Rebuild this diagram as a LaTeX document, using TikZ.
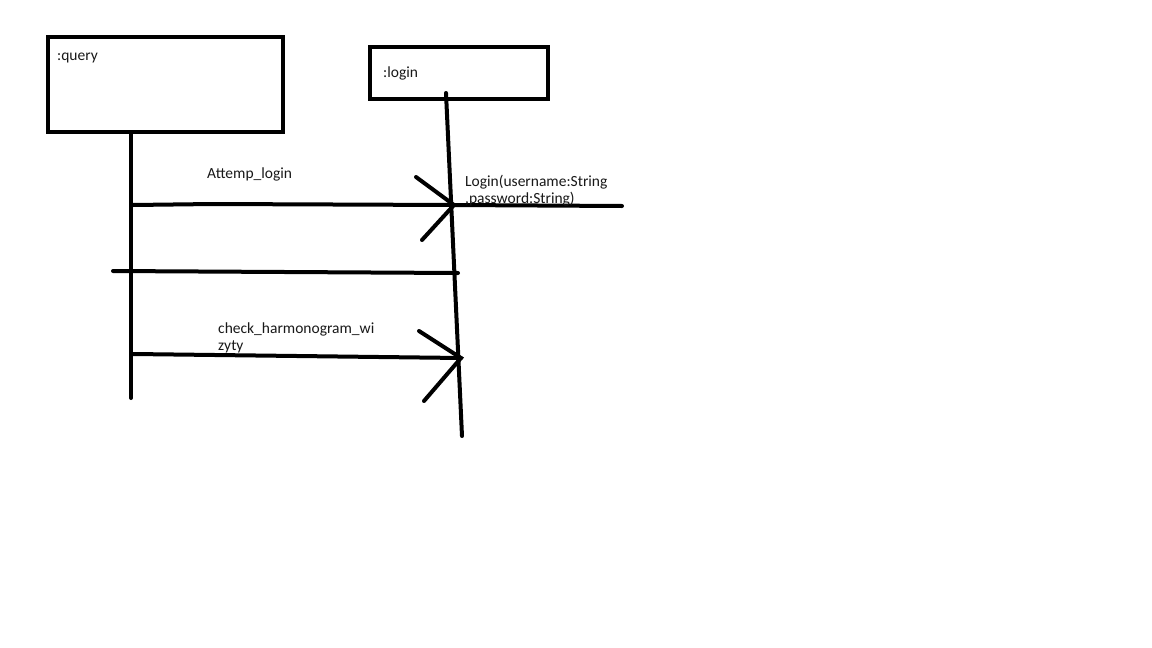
\documentclass[tikz,border=0pt]{standalone}
\usepackage{fontspec}
\setmainfont{Carlito}
\begin{document}
\begin{tikzpicture}[x=1pt,y=-1pt,
  stroke/.style={line width=4pt,line cap=round},
  objbox/.style={draw,line width=4pt,anchor=north west,inner sep=0pt},
  lbl/.style={anchor=base west,inner sep=0pt,font=\fontsize{15.5}{17}\selectfont,text=black!90}]
\useasboundingbox[fill=white] (0,0) rectangle (1152,648);

% object boxes
\node[objbox,minimum width=235pt,minimum height=95pt] (query) at (46,35) {};
\node[objbox,minimum width=178pt,minimum height=52pt] (login) at (368,45) {};
\node[lbl] (qtxt) at (57,60) {:query};
\node[lbl] (ltxt) at (383,77) {:login};

% lifelines
\coordinate (qtop) at (131,132);
\coordinate (qbot) at (131,398);
\coordinate (ltop) at (446,93);
\coordinate (lbot) at (462,436);
\draw[stroke] (qtop) -- (qbot);
\draw[stroke] (ltop) -- (lbot);

% Attemp_login message
\coordinate (m1s) at (133,205);
\coordinate (m1e) at (454,205);
\coordinate (m1a) at (416,177);
\coordinate (m1b) at (422,240);
\draw[stroke] (m1s) -- (213,204) -- (m1e);
\draw[stroke] (m1a) -- (m1e) -- (m1b);
\node[lbl] (m1txt) at (207,178) {Attemp\_login};

% Login(...) outgoing line
\coordinate (m2e) at (622,206);
\draw[stroke] (m1e) -- (m2e);
\node[lbl] (m2txt) at (465,186) {Login(username:String};
\node[lbl] (m2txt2) at (465,203) {,password:String)};

% separator line
\coordinate (s1) at (113,271);
\coordinate (s2) at (458,273);
\draw[stroke] (s1) -- (285,272) -- (s2);

% check_harmonogram_wizyty message
\coordinate (m3s) at (133,354);
\coordinate (m3e) at (461,358);
\coordinate (m3a) at (419,331);
\coordinate (m3b) at (424,401);
\draw[stroke] (m3s) -- (m3e);
\draw[stroke] (m3a) -- (m3e) -- (m3b);
\node[lbl] (m3txt) at (218,333) {check\_harmonogram\_wi};
\node[lbl] (m3txt2) at (218,350) {zyty};
\end{tikzpicture}
\end{document}
